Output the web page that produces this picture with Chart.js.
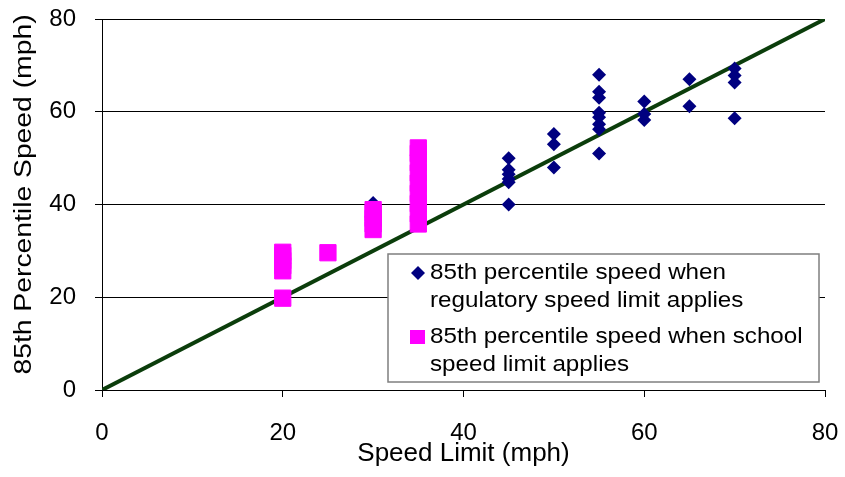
<!DOCTYPE html>
<html>
<head>
<meta charset="utf-8">
<script src="https://cdn.jsdelivr.net/npm/chart.js@4.4.1/dist/chart.umd.min.js"></script>
<style>
  html, body { margin: 0; padding: 0; background: #fff; }
</style>
</head>
<body>
<canvas id="speedChart" width="845" height="477"></canvas>
<script>
// regulatory speed limit points (speed limit, 85th percentile speed)
const regLimit = [45, 45, 45, 45, 45, 45, 50, 50, 50, 55, 55, 55, 55, 55, 55, 55, 55, 60, 60, 60, 65, 65, 70, 70, 70, 70, 30];
const regSpeed = [50, 47.5, 46.5, 45.5, 44.8, 40, 55.2, 53, 48, 68, 64.3, 63, 59.8, 58.8, 57.3, 56.2, 51, 62.2, 59.5, 58.2, 67, 61.2, 69.3, 67.8, 66.3, 58.6, 40.3];

// school speed limit points
const schoolLimit = [20, 20, 20, 20, 20, 20, 25, 30, 30, 30, 30, 30, 35, 35, 35, 35, 35, 35, 35, 35, 35];
const schoolSpeed = [19.8, 25.7, 26.8, 27.9, 29, 29.7, 29.6, 34.6, 35.8, 37, 38.2, 38.9, 35.8, 38, 40.2, 42.4, 44.6, 46.8, 49, 51, 52.2];

// equality line
const lineX = [0, 80];
const lineY = [0, 80];

const regLabel = ['85th percentile speed when', 'regulatory speed limit applies'];
const schoolLabel = ['85th percentile speed when school', 'speed limit applies'];
const xTitle = 'Speed Limit (mph)';
const yTitle = '85th Percentile Speed (mph)';

function pairs(xs, ys) {
  return xs.map(function (x, i) { return { x: x, y: ys[i] }; });
}

const FONT = '"Liberation Sans", Arial, sans-serif';
Chart.defaults.font.family = FONT;
Chart.defaults.color = '#000';

// y axis title, drawn a bit wider than normal like the original
const yTitlePlugin = {
  id: 'yTitlePlugin',
  afterDraw: function (chart) {
    const ctx = chart.ctx;
    const a = chart.chartArea;
    ctx.save();
    ctx.translate(25, a.top + (a.bottom - a.top) / 2 - 10);
    ctx.rotate(-Math.PI / 2);
    ctx.scale(1.23, 1);
    ctx.font = '23px ' + FONT;
    ctx.fillStyle = '#000';
    ctx.textAlign = 'center';
    ctx.textBaseline = 'middle';
    ctx.fillText(yTitle, 0, 0);
    ctx.restore();
  }
};

// legend box drawn inside the plot, with wrapped labels
const legendBox = {
  id: 'legendBox',
  afterDraw: function (chart) {
    const ctx = chart.ctx;
    const a = chart.chartArea;
    const left = a.left + 286, top = a.top + 235, w = 431, h = 128;
    ctx.save();
    ctx.fillStyle = '#fff';
    ctx.fillRect(left, top, w, h);
    ctx.strokeStyle = '#7f7f7f';
    ctx.lineWidth = 1.5;
    ctx.strokeRect(left, top, w, h);

    function text(s, x, y) {
      ctx.save();
      ctx.translate(x, y);
      ctx.scale(1.1, 1);
      ctx.fillStyle = '#000';
      ctx.textBaseline = 'middle';
      ctx.font = '22px ' + FONT;
      ctx.fillText(s, 0, 0);
      ctx.restore();
    }
    const textX = left + 42;

    // diamond
    const d1 = chart.data.datasets[0];
    ctx.fillStyle = d1.backgroundColor;
    ctx.beginPath();
    ctx.moveTo(left + 30, top + 12);
    ctx.lineTo(left + 37, top + 19);
    ctx.lineTo(left + 30, top + 26);
    ctx.lineTo(left + 23, top + 19);
    ctx.closePath();
    ctx.fill();
    text(d1.label[0], textX, top + 19);
    text(d1.label[1], textX, top + 47);

    // square
    const d2 = chart.data.datasets[1];
    ctx.fillStyle = d2.backgroundColor;
    ctx.fillRect(left + 22, top + 76, 15, 14);
    text(d2.label[0], textX, top + 83);
    text(d2.label[1], textX, top + 111);
    ctx.restore();
  }
};

new Chart('speedChart', {
  type: 'scatter',
  data: {
    datasets: [
      {
        label: regLabel,
        data: pairs(regLimit, regSpeed),
        pointStyle: 'rectRot',
        pointRadius: 7,
        borderWidth: 0,
        backgroundColor: '#000080',
        order: 2
      },
      {
        label: schoolLabel,
        data: pairs(schoolLimit, schoolSpeed),
        pointStyle: 'rect',
        pointRadius: 11.5,
        borderWidth: 1,
        borderColor: '#ff00ff',
        backgroundColor: '#ff00ff',
        order: 1
      },
      {
        label: 'y = x',
        data: pairs(lineX, lineY),
        showLine: true,
        pointRadius: 0,
        borderColor: '#0b3d0b',
        borderWidth: 4,
        order: 3
      }
    ]
  },
  options: {
    responsive: false,
    animation: false,
    layout: { padding: { top: 19, right: 20, left: 0, bottom: 0 } },
    plugins: {
      legend: { display: false },
      tooltip: { enabled: false }
    },
    scales: {
      x: {
        type: 'linear',
        min: 0,
        max: 80,
        ticks: { stepSize: 20, font: { size: 24 }, padding: 22 },
        grid: { drawOnChartArea: false, drawTicks: true, tickLength: 7, color: '#000' },
        border: { color: '#000', width: 1 },
        title: { display: true, text: xTitle, font: { size: 26 }, padding: { top: 0, bottom: 8 } },
        afterFit: function (scale) {
          scale.height = 87;
          scale.paddingLeft = 0;
          scale.paddingRight = 0;
        }
      },
      y: {
        min: 0,
        max: 80,
        ticks: { stepSize: 20, font: { size: 24 }, padding: 19 },
        grid: { color: '#000', lineWidth: 1, tickLength: 7 },
        border: { color: '#000', width: 1 },
        afterFit: function (scale) {
          scale.width = 102;
          scale.paddingTop = 0;
          scale.paddingBottom = 0;
        }
      }
    }
  },
  plugins: [yTitlePlugin, legendBox]
});
</script>
</body>
</html>
